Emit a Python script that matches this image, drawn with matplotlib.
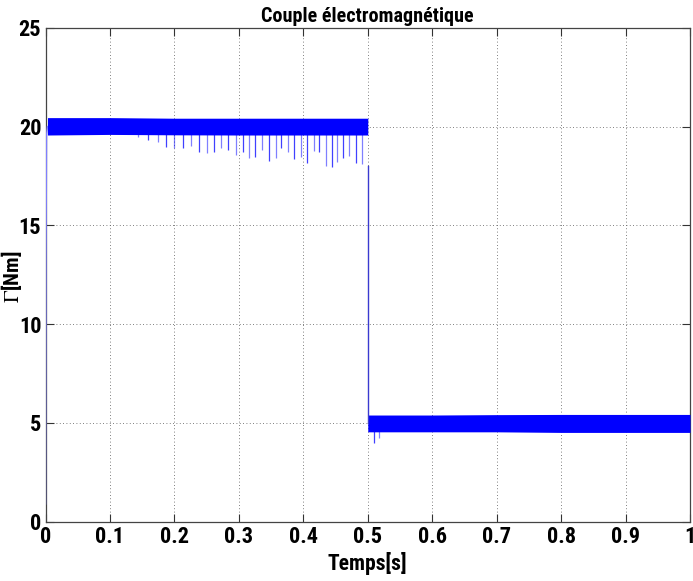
import matplotlib
matplotlib.use("Agg")
import matplotlib.pyplot as plt
from matplotlib import font_manager

names = {f.name for f in font_manager.fontManager.ttflist}
fam = 'DejaVu Sans'
for cand in ['Arial Narrow', 'Liberation Sans Narrow', 'Nimbus Sans Narrow',
             'Roboto Condensed', 'PT Sans Narrow', 'Archivo Narrow',
             'Barlow Semi Condensed']:
    if cand in names:
        fam = cand
        break
plt.rcParams['font.family'] = [fam, 'DejaVu Sans']
plt.rcParams['mathtext.fontset'] = 'stix'

# --- data ---
# start-up transient
start_t = [0.0, 0.0008, 0.0016, 0.003]
start_v = [0.9, 13.4, 19.6, 20.0]

# ripple envelope of the torque, phase 1 (load 20 Nm) and phase 2 (load 5 Nm)
band1_t = [0.003, 0.1, 0.2, 0.3, 0.4, 0.5]
band1_hi = [20.45, 20.45, 20.42, 20.42, 20.42, 20.42]
band1_lo = [19.57, 19.6, 19.58, 19.57, 19.57, 19.57]
band2_t = [0.5, 0.6, 0.7, 0.8, 0.9, 1.0]
band2_hi = [5.40, 5.40, 5.42, 5.43, 5.43, 5.43]
band2_lo = [4.55, 4.55, 4.55, 4.52, 4.52, 4.52]

# downward spikes (time, minimum value)
spike_t = [0.144, 0.159, 0.175, 0.187, 0.199, 0.213, 0.226, 0.238, 0.251,
           0.261, 0.272, 0.283, 0.296, 0.306, 0.316, 0.325, 0.336, 0.347,
           0.357, 0.366, 0.376, 0.386, 0.396, 0.405, 0.416, 0.425, 0.435,
           0.444, 0.453, 0.462, 0.471, 0.481, 0.491, 0.509, 0.518]
spike_min = [19.45, 19.3, 19.2, 18.95, 18.9, 18.9, 19.0, 18.7, 18.65,
             18.7, 18.9, 18.8, 18.55, 18.7, 18.4, 18.46, 18.83, 18.27,
             18.42, 18.9, 18.69, 18.34, 18.47, 18.17, 18.76, 18.72, 18.0,
             17.97, 18.19, 18.42, 18.52, 18.17, 18.1, 3.97, 4.22]
spike_top = [19.6] * 33 + [4.6, 4.6]

# load step at t = 0.5 s
step_t = [0.5, 0.5]
step_v = [18.0, 5.0]

xticks = [0, 0.1, 0.2, 0.3, 0.4, 0.5, 0.6, 0.7, 0.8, 0.9, 1]
xlabels = ['0', '0.1', '0.2', '0.3', '0.4', '0.5', '0.6', '0.7', '0.8', '0.9', '1']
yticks = [0, 5, 10, 15, 20, 25]

fig = plt.figure(figsize=(6.93, 5.81), dpi=100)
ax = fig.add_axes([0.0657, 0.102, 0.9300, 0.8503])

blue = '#0000ff'
ax.plot(start_t, start_v, color='#7f7fff', lw=1.0, zorder=3)
ax.fill_between(band1_t, band1_lo, band1_hi, color=blue, lw=0, zorder=3)
ax.fill_between(band2_t, band2_lo, band2_hi, color=blue, lw=0, zorder=3)
for i, (t, lo, hi) in enumerate(zip(spike_t, spike_min, spike_top)):
    ax.vlines(t, lo, hi, color=blue, lw=0.9, alpha=0.75 if i % 2 else 0.5, zorder=3)
ax.plot(step_t, step_v, color='#3a3ad0', lw=1.0, zorder=3)

ax.set_xlim(0, 1)
ax.set_ylim(0, 25)
ax.set_xticks(xticks)
ax.set_xticklabels(xlabels)
ax.set_yticks(yticks)
ax.grid(True, color='#555555', linestyle=(0, (1, 3)), linewidth=0.6)
ax.set_axisbelow(True)
ax.tick_params(direction='in', length=6, width=0.8, top=True, right=True,
               labelsize=16, pad=3, color='#333333')
for lab in ax.get_xticklabels() + ax.get_yticklabels():
    lab.set_fontweight('bold')
for s in ax.spines.values():
    s.set_color('#444444')
    s.set_linewidth(0.9)

ax.set_title('Couple électromagnétique', fontsize=14.5, fontweight='bold', pad=4)
ax.set_xlabel('Temps[s]', fontsize=15.5, fontweight='bold', labelpad=3)
ax.set_ylabel(r'$\Gamma$[Nm]', fontsize=15, fontweight='bold')
ax.yaxis.set_label_coords(-0.034, 0.495)

fig.savefig('out.png', dpi=100)
